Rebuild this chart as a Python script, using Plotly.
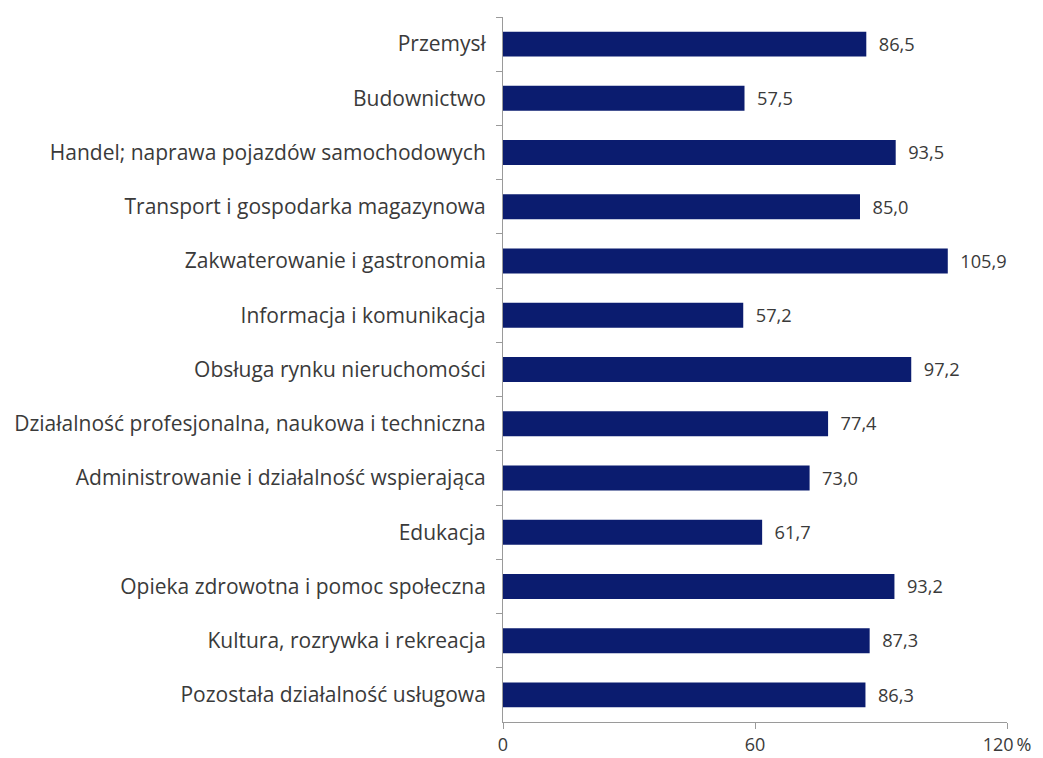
import plotly.graph_objects as go

categories = [
    "Przemysł",
    "Budownictwo",
    "Handel; naprawa pojazdów samochodowych",
    "Transport i gospodarka magazynowa",
    "Zakwaterowanie i gastronomia",
    "Informacja i komunikacja",
    "Obsługa rynku nieruchomości",
    "Działalność profesjonalna, naukowa i techniczna",
    "Administrowanie i działalność wspierająca",
    "Edukacja",
    "Opieka zdrowotna i pomoc społeczna",
    "Kultura, rozrywka i rekreacja",
    "Pozostała działalność usługowa",
]
values = [86.5, 57.5, 93.5, 85.0, 105.9, 57.2, 97.2, 77.4, 73.0, 61.7, 93.2, 87.3, 86.3]
tick_vals = [0, 60, 120]
tick_text = ["0", "60", "120\u2009%"]

labels = ["\u00a0\u00a0" + f"{v:.1f}".replace(".", ",") for v in values]

font_family = "Open Sans, Noto Sans, sans-serif"
text_color = "#3a3a3a"

fig = go.Figure(
    go.Bar(
        x=values,
        y=categories,
        orientation="h",
        marker=dict(color="#0b1c6f", line=dict(width=0)),
        width=0.46,
        text=labels,
        textposition="outside",
        cliponaxis=False,
        textfont=dict(size=19, color=text_color, family=font_family),
    )
)

fig.update_layout(
    width=1035,
    height=750,
    margin=dict(l=495, r=36, t=9, b=36),
    paper_bgcolor="white",
    plot_bgcolor="white",
    showlegend=False,
    font=dict(family=font_family, size=20, color=text_color),
)
fig.update_xaxes(
    range=[0, 120],
    tickvals=tick_vals,
    ticktext=tick_text,
    automargin=False,
    showgrid=False,
    zeroline=False,
    showline=True,
    linecolor="#9a9a9a",
    linewidth=1,
    ticks="outside",
    ticklen=6,
    tickcolor="#9a9a9a",
    tickfont=dict(size=18, color=text_color),
)
fig.update_yaxes(
    categoryorder="array",
    categoryarray=categories,
    autorange="reversed",
    automargin=False,
    showgrid=False,
    zeroline=False,
    showline=True,
    linecolor="#9a9a9a",
    linewidth=1,
    ticks="outside",
    tickson="boundaries",
    ticklen=6,
    tickcolor="#9a9a9a",
    tickfont=dict(size=21, color=text_color),
    ticklabelstandoff=12,
)

fig.write_html("out.html")
